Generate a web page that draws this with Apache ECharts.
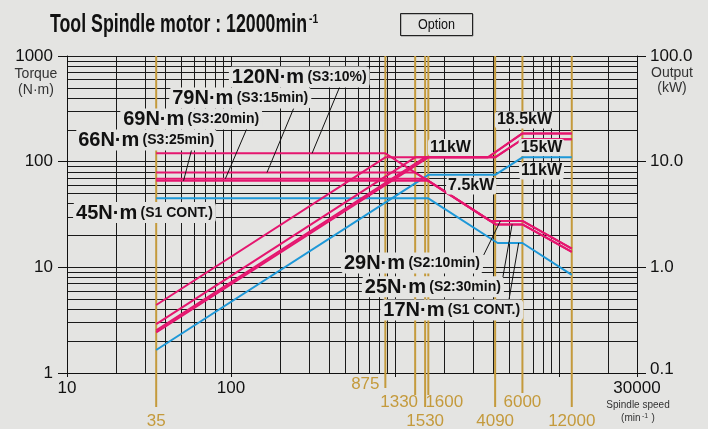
<!DOCTYPE html>
<html><head><meta charset="utf-8">
<script src="https://cdn.jsdelivr.net/npm/echarts@6/dist/echarts.min.js"></script>
<style>html,body{margin:0;padding:0;background:#e4e4e2}#c{width:708px;height:429px}</style>
</head><body><div id="c"></div><script>
// ---------------- data ----------------
// characteristic speeds marked on the x axis (min^-1)
const speedMarks = [35, 875, 1330, 1530, 1600, 4090, 6000, 12000];
const speedMarkLabels = ['35', '875', '1330', '1530', '1600', '4090', '6000', '12000'];

// torque curves (N·m) vs spindle speed (min^-1)
const tqS3_10_speed = [35, 875, 3820, 6000, 12000];
const tqS3_10_value = [120, 120, 27.5, 27.5, 15];
const tqS3_15_speed = [35, 1330, 3820, 6000, 12000];
const tqS3_15_value = [79, 79, 27.5, 27.5, 15];
const tqS3_20_speed = [35, 1530, 4120, 6000, 12000];
const tqS3_20_value = [69, 69, 25.5, 25.5, 14];
const tqS3_25_speed = [35, 1600, 4120, 6000, 12000];
const tqS3_25_value = [66, 66, 25.5, 25.5, 14];
const tqS1_speed = [35, 1600, 4235, 6000, 12000];
const tqS1_value = [45, 45, 17, 17, 8.5];

// output curves (kW) vs spindle speed (min^-1)
const pwS3_10_speed = [35, 875, 3700, 6000, 12000];
const pwS3_10_value = [0.44, 11, 11, 18.5, 18.5];
const pwS3_15_speed = [35, 1330, 3700, 6000, 12000];
const pwS3_15_value = [0.29, 11, 11, 18.5, 18.5];
const pwS3_20_speed = [35, 1530, 4090, 6000, 12000];
const pwS3_20_value = [0.253, 11, 11, 16.3, 16.3];
const pwS3_25_speed = [35, 1600, 4090, 6000, 12000];
const pwS3_25_value = [0.242, 11, 11, 16.3, 16.3];
const pwS1_speed = [35, 1600, 4090, 6000, 12000];
const pwS1_value = [0.165, 7.5, 7.5, 11, 11];

// torque annotations (text)
const tqNoteMain = ['120N·m', '79N·m', '69N·m', '66N·m', '45N·m', '29N·m', '25N·m', '17N·m'];
const tqNoteDuty = ['(S3:10%)', '(S3:15min)', '(S3:20min)', '(S3:25min)', '(S1 CONT.)', '(S2:10min)', '(S2:30min)', '(S1 CONT.)'];
// output annotations (text)
const kwNotes = ['11kW', '7.5kW', '18.5kW', '15kW', '11kW'];

// ---------------- layout (annotation anchors in data units) ----------------
const tqNoteAt = [[261, 633], [114, 400], [57.2, 253], [30.4, 160], [29.7, 33], [1271, 11.0], [1706, 6.56], [2224, 3.95]];
const kwNoteAt = [[2183, 13.6], [2924, 5.89], [6180, 24.8], [7850, 13.6], [7850, 8.16]];
const leaderFrom = [[466, 531], [241.5, 320], [125.3, 207], [57.9, 134], [3485, 13.1], [4508, 7.31], [4945, 4.73]];
const leaderTo = [[312.6, 120], [166, 79], [92.5, 69], [51.4, 66], [4405, 27.5], [5190, 25.5], [5690, 17]];
// gold speed marks: line end below plot, label dx, label y
const markLineEnd = [407, 388, 395, 407, 395, 407, 393, 407];
const markLabelDx = [0, -20, -16, 0, 16, 0, 0, 0];
const markLabelY = [421, 384, 402, 421, 402, 421, 402, 421];

const BG = '#e4e4e2', PINK = '#e5166f', BLUE = '#1e98d8', GOLD = '#c49a3c', GRIDC = '#1a1a1a', INK = '#111';
const FONT = "'Liberation Sans', Arial, sans-serif";

function pairs(xs, ys) { return xs.map((x, i) => [x, ys[i]]); }

const xGrid = [], yGrid = [];
for (let d = 10; d <= 10000; d *= 10) for (let k = 1; k <= 9; k++) { if (k * d <= 30000) xGrid.push(k * d); }
for (let d = 1; d <= 100; d *= 10) for (let k = 1; k <= 9; k++) yGrid.push(k * d);
yGrid.push(1000);

const chart = echarts.init(document.getElementById('c'), null, { renderer: 'canvas', width: 708, height: 429 });

function curve(name, xs, ys, color, axis) {
  return { name, type: 'line', yAxisIndex: axis, data: pairs(xs, ys), symbol: 'none', showSymbol: false,
    lineStyle: { color, width: 2 }, z: 3, silent: true, animation: false, emphasis: { disabled: true } };
}

const noteRich = {
  b: { fontFamily: FONT, fontWeight: 'bold', fontSize: 20, color: INK },
  s: { fontFamily: FONT, fontWeight: 'bold', fontSize: 14, color: INK }
};

const option = {
  backgroundColor: BG,
  animation: false,
  grid: { left: 67, right: 71, top: 56, bottom: 56, containLabel: false, outerBoundsMode: 'none' },
  xAxis: {
    type: 'log', logBase: 10, min: 10, max: 30000,
    axisLine: { show: true, lineStyle: { color: INK, width: 1 } },
    axisTick: { show: true, length: 4, lineStyle: { color: INK } },
    splitLine: { show: false }, minorTick: { show: false },
    axisLabel: { margin: 7, color: INK, fontSize: 17, fontFamily: FONT, showMinLabel: true, showMaxLabel: true,
      formatter: v => { const r = Math.round(v); return (r === 10 || r === 100 || r === 30000) ? String(r) : ''; } }
  },
  yAxis: [
    { type: 'log', logBase: 10, min: 1, max: 1000, position: 'left',
      axisLine: { show: true, lineStyle: { color: INK, width: 1 } },
      axisTick: { show: true, inside: false, length: 9, lineStyle: { color: INK } },
      splitLine: { show: false },
      axisLabel: { margin: 14, color: INK, fontSize: 17, fontFamily: FONT, showMinLabel: true, showMaxLabel: true,
        formatter: v => String(Math.round(v)) } },
    { type: 'log', logBase: 10, min: 0.1, max: 100, position: 'right',
      axisLine: { show: true, lineStyle: { color: INK, width: 1 } },
      axisTick: { show: true, inside: false, length: 9, lineStyle: { color: INK } },
      splitLine: { show: false },
      axisLabel: { margin: 13, color: INK, fontSize: 17, fontFamily: FONT, showMinLabel: true, showMaxLabel: true,
        formatter: v => { const s = (Math.round(v * 10) / 10).toFixed(1); return v < 0.5 ? '{lo|' + s + '}' : s; },
        rich: { lo: { fontFamily: FONT, fontSize: 17, color: INK, padding: [0, 0, 7, 0] } } } }
  ],
  series: [
    { type: 'line', data: [], z: 0, silent: true, animation: false,
      markLine: { z: 0, silent: true, symbol: ['none', 'none'], animation: false, label: { show: false },
        emphasis: { disabled: true },
        lineStyle: { color: GRIDC, width: 1, type: 'solid' },
        data: [...xGrid.map(v => ({ xAxis: v })), ...yGrid.map(v => ({ yAxis: v }))] } },
    curve('P S1', pwS1_speed, pwS1_value, BLUE, 1),
    curve('T S1', tqS1_speed, tqS1_value, BLUE, 0),
    curve('P S3-25', pwS3_25_speed, pwS3_25_value, PINK, 1),
    curve('P S3-20', pwS3_20_speed, pwS3_20_value, PINK, 1),
    curve('P S3-15', pwS3_15_speed, pwS3_15_value, PINK, 1),
    curve('P S3-10', pwS3_10_speed, pwS3_10_value, PINK, 1),
    curve('T S3-25', tqS3_25_speed, tqS3_25_value, PINK, 0),
    curve('T S3-20', tqS3_20_speed, tqS3_20_value, PINK, 0),
    curve('T S3-15', tqS3_15_speed, tqS3_15_value, PINK, 0),
    curve('T S3-10', tqS3_10_speed, tqS3_10_value, PINK, 0),
    { type: 'line', data: [], yAxisIndex: 0, z: 10, silent: true, animation: false,
      markLine: { z: 8, silent: true, symbol: ['none', 'none'], animation: false, label: { show: false },
        emphasis: { disabled: true },
        lineStyle: { color: INK, width: 1, type: 'solid' },
        data: leaderFrom.map((p, i) => [{ coord: p }, { coord: leaderTo[i] }]) },
      markPoint: { z: 10, silent: true, animation: false, symbol: 'circle', symbolSize: 1,
        itemStyle: { color: 'rgba(0,0,0,0)' },
        label: { show: true, position: 'inside', backgroundColor: BG, borderRadius: 4, padding: [1, 3, 0, 3], rich: noteRich },
        data: tqNoteAt.map((p, i) => ({ coord: p, label: { formatter: '{b|' + tqNoteMain[i] + '} {s|' + tqNoteDuty[i] + '}' } })) } },
    { type: 'line', data: [], yAxisIndex: 1, z: 10, silent: true, animation: false,
      markPoint: { z: 10, silent: true, animation: false, symbol: 'circle', symbolSize: 1,
        itemStyle: { color: 'rgba(0,0,0,0)' },
        label: { show: true, position: 'inside', backgroundColor: BG, borderRadius: 3, padding: [1, 2, 0, 2],
          fontFamily: FONT, fontWeight: 'bold', fontSize: 16, color: INK },
        data: kwNoteAt.map((p, i) => ({ coord: p, label: { formatter: kwNotes[i] } })) } }
  ]
};
chart.setOption(option);

// text measuring for condensed (scaled) text
const mctx = document.createElement('canvas').getContext('2d');
function textWidth(t, font) { mctx.font = font; return mctx.measureText(t).width; }

// extra graphics positioned with the library's own scales
const topPx = chart.convertToPixel({ yAxisIndex: 0 }, 1000);
const botPx = chart.convertToPixel({ yAxisIndex: 0 }, 1);
const leftPx = chart.convertToPixel({ xAxisIndex: 0 }, 10);
const rightPx = chart.convertToPixel({ xAxisIndex: 0 }, 30000);
const g = [];
speedMarks.forEach((v, i) => {
  const px = chart.convertToPixel({ xAxisIndex: 0 }, v);
  g.push({ type: 'line', silent: true, z: 1, shape: { x1: px, y1: topPx, x2: px, y2: markLineEnd[i] },
    style: { stroke: GOLD, lineWidth: 2 } });
  g.push({ type: 'text', silent: true, z: 1, x: px + markLabelDx[i], y: markLabelY[i],
    style: { text: speedMarkLabels[i], fill: GOLD, font: '17px ' + FONT, textAlign: 'center', textVerticalAlign: 'middle' } });
});
const axisTxt = (t, x, y, size, color) => ({ type: 'text', silent: true, z: 5, x, y,
  style: { text: t, fill: color, font: size + 'px ' + FONT, textAlign: 'center', textVerticalAlign: 'middle' } });
g.push(axisTxt('Torque', leftPx - 31, topPx + 18, 14, '#333'));
g.push(axisTxt('(N·m)', leftPx - 31, topPx + 34, 14, '#333'));
g.push(axisTxt('Output', rightPx + 35, topPx + 17, 14, '#333'));
g.push(axisTxt('(kW)', rightPx + 35, topPx + 32, 14, '#333'));
g.push(axisTxt('Spindle speed', rightPx + 1, botPx + 32, 10, '#333'));
g.push(axisTxt('(min    )', rightPx + 1, botPx + 45, 10, '#333'));
g.push(axisTxt('-1', rightPx + 8, botPx + 43, 7, '#333'));

// title (condensed by horizontal scaling)
const titleMain = 'Tool Spindle motor : 12000min';
const titleFont = 'bold 25px ' + FONT;
const tScale = 257 / textWidth(titleMain, titleFont);
g.push({ type: 'text', silent: true, z: 5, x: 50, y: 25, scaleX: tScale,
  style: { text: titleMain, fill: INK, font: titleFont, textAlign: 'left', textVerticalAlign: 'middle' } });
g.push({ type: 'text', silent: true, z: 5, x: 309, y: 20, scaleX: 0.85,
  style: { text: '-1', fill: INK, font: 'bold 12px ' + FONT, textAlign: 'left', textVerticalAlign: 'middle' } });

// "Option" box
g.push({ type: 'rect', silent: true, z: 5, shape: { x: 401, y: 14, width: 72, height: 22 }, style: { fill: 'none', stroke: '#888', lineWidth: 1 } });
g.push({ type: 'rect', silent: true, z: 5, shape: { x: 400.5, y: 13.5, width: 72, height: 22 }, style: { fill: 'none', stroke: '#222', lineWidth: 1 } });
const optFont = '15px ' + FONT;
const oScale = 37 / textWidth('Option', optFont);
g.push({ type: 'text', silent: true, z: 5, x: 436.5 - 18.5, y: 25, scaleX: oScale,
  style: { text: 'Option', fill: INK, font: optFont, textAlign: 'left', textVerticalAlign: 'middle' } });
chart.setOption({ graphic: { elements: g } });
</script></body></html>
